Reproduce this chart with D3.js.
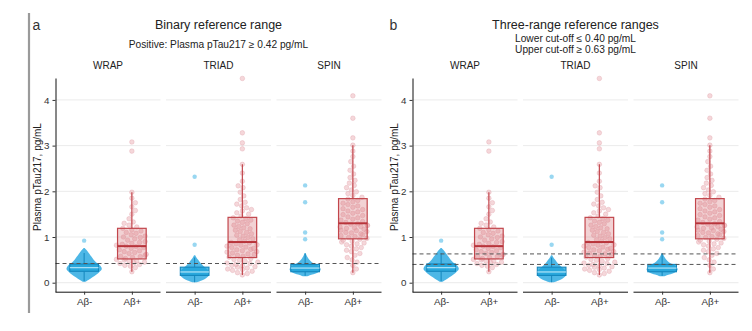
<!DOCTYPE html>
<html><head><meta charset="utf-8">
<script src="https://cdn.jsdelivr.net/npm/d3@7"></script>
<style>body{margin:0;background:#fff}</style>
</head><body>
<script>
// ---------------- data ----------------
const cohorts = ["WRAP", "TRIAD", "SPIN"];
const statusCats = ["Aβ-", "Aβ+"];
const yTicks = [0, 1, 2, 3, 4];
const binaryCutoff = [0.42];
const threeRangeCutoffs = [0.40, 0.63];

// box stats [lower whisker, Q1, median, Q3, upper whisker] per cohort
const negBoxStats = [[0.03, 0.25, 0.33, 0.41, 0.65], [0.01, 0.16, 0.235, 0.34, 0.55], [0.15, 0.24, 0.32, 0.40, 0.64]];
const posBoxStats = [[0.24, 0.52, 0.80, 1.19, 1.98], [0.17, 0.55, 0.89, 1.43, 2.59], [0.22, 0.96, 1.30, 1.84, 3.01]];

// Aβ- swarm density profiles (value, relative density)
const wrapNegVals = [0.02, 0.06, 0.12, 0.18, 0.24, 0.30, 0.36, 0.42, 0.48, 0.54, 0.60, 0.66, 0.72, 0.76];
const wrapNegDens = [0.06, 0.24, 0.47, 0.70, 0.88, 1.00, 0.94, 0.76, 0.59, 0.47, 0.35, 0.24, 0.12, 0.03];
const triadNegVals = [0.01, 0.05, 0.10, 0.15, 0.20, 0.25, 0.30, 0.35, 0.40, 0.45, 0.50, 0.55, 0.60];
const triadNegDens = [0.10, 0.40, 0.65, 0.80, 0.82, 0.80, 0.70, 0.55, 0.42, 0.30, 0.20, 0.10, 0.03];
const spinNegVals = [0.14, 0.18, 0.22, 0.26, 0.30, 0.34, 0.38, 0.42, 0.46, 0.50, 0.55, 0.60, 0.65];
const spinNegDens = [0.10, 0.40, 0.70, 0.85, 0.88, 0.82, 0.70, 0.50, 0.35, 0.24, 0.15, 0.08, 0.02];

// Aβ- isolated points
const wrapNegOut = [0.92];
const triadNegOut = [0.83, 2.32];
const spinNegOut = [0.95, 1.10, 1.76, 2.13];

// Aβ+ individual values
const wrapPos = [0.24, 0.33, 0.36, 0.38, 0.40, 0.42, 0.44, 0.45, 0.47, 0.48, 0.50, 0.51, 0.53, 0.55, 0.57, 0.58, 0.60, 0.62, 0.64, 0.66, 0.68, 0.70, 0.72, 0.75, 0.77, 0.79, 0.80, 0.82, 0.84, 0.86, 0.88, 0.90, 0.93, 0.96, 0.99, 1.00, 1.02, 1.05, 1.08, 1.10, 1.13, 1.16, 1.19, 1.22, 1.26, 1.30, 1.33, 1.40, 1.50, 1.58, 1.66, 1.75, 1.85, 1.98, 2.88, 3.08];
const triadPos = [0.17, 0.20, 0.22, 0.25, 0.27, 0.29, 0.30, 0.32, 0.34, 0.35, 0.37, 0.38, 0.40, 0.42, 0.43, 0.45, 0.47, 0.49, 0.51, 0.53,
  0.56, 0.58, 0.60, 0.62, 0.63, 0.65, 0.67, 0.68, 0.70, 0.72, 0.73, 0.75, 0.77, 0.78, 0.80, 0.82, 0.83, 0.85, 0.87, 0.88,
  0.91, 0.94, 0.96, 0.99, 1.02, 1.04, 1.07, 1.10, 1.12, 1.15, 1.18, 1.20, 1.23, 1.26, 1.29, 1.32, 1.35, 1.37, 1.40, 1.42,
  1.46, 1.50, 1.53, 1.57, 1.60, 1.64, 1.68, 1.72, 1.76, 1.82, 1.90, 1.98, 2.08, 2.12, 2.22, 2.40, 2.59, 2.93, 3.06, 3.28, 4.47];
const spinPos = [0.22, 0.30, 0.38, 0.45, 0.50, 0.55, 0.60, 0.64, 0.68, 0.71, 0.74, 0.77, 0.80, 0.83, 0.85, 0.87, 0.89, 0.91, 0.93, 0.95,
  0.97, 0.99, 1.01, 1.03, 1.05, 1.07, 1.09, 1.10, 1.12, 1.14, 1.15, 1.17, 1.19, 1.20, 1.22, 1.23, 1.25, 1.26, 1.28, 1.29,
  1.32, 1.34, 1.37, 1.39, 1.42, 1.44, 1.47, 1.49, 1.52, 1.55, 1.57, 1.60, 1.62, 1.65, 1.68, 1.71, 1.74, 1.77, 1.80, 1.83,
  1.87, 1.91, 1.95, 1.99, 2.03, 2.08, 2.13, 2.18, 2.24, 2.30, 2.38, 2.46, 2.55, 2.65, 2.76, 2.88, 3.01, 3.17, 3.60, 4.09];

const negProfiles = [[wrapNegVals, wrapNegDens], [triadNegVals, triadNegDens], [spinNegVals, spinNegDens]];
const negOutliers = [wrapNegOut, triadNegOut, spinNegOut];
const posPoints = [wrapPos, triadPos, spinPos];

// ---------------- drawing ----------------
const W = 752, H = 331;
const FONT = "'Liberation Sans', Arial, Helvetica, sans-serif";
const BLUE = "#1ea3da", BLUE_DARK = "#1486bd", RED = "#c2464c";
const panelW = 105, gap = 5.5;
const svg = d3.select("body").append("svg").attr("width", W).attr("height", H)
  .style("font-family", FONT);

const y = d3.scaleLinear().domain([-0.197, 4.48]).range([291.7, 78]);

// separator line for panel a
svg.append("line").attr("x1", 29).attr("x2", 29).attr("y1", 13).attr("y2", 313)
  .attr("stroke", "#9a9a9a").attr("stroke-width", 2.2);

function swarm(values, cx, r, limit) {
  const sorted = values.slice().sort((a, b) => a - b);
  const placed = [];
  const minD = r * 2.2;
  sorted.forEach((v, idx) => {
    const py = y(v);
    let best = null;
    const sign = idx % 2 ? 1 : -1;
    for (let k = 0; k < 200; k++) {
      const off = (k === 0) ? 0 : (k % 2 ? sign : -sign) * Math.ceil(k / 2) * 0.7;
      if (Math.abs(off) > limit) break;
      const ok = placed.every(p => Math.hypot(p.x - (cx + off), p.y - py) >= minD);
      if (ok) { best = off; break; }
    }
    if (best === null) best = sign * limit * ((idx * 7) % 10) / 10;
    placed.push({ x: cx + best, y: py, v });
  });
  return placed;
}

function drawSet(x0, title, subtitles, letter, cutoffs) {
  const g = svg.append("g");
  const lastRight = x0 + 3 * panelW + 2 * gap;
  const center = (x0 + lastRight) / 2;
  g.append("text").attr("x", center).attr("y", 29).attr("text-anchor", "middle")
    .attr("font-size", 12.5).attr("fill", "#222").text(title);
  subtitles.forEach((s, i) => {
    g.append("text").attr("x", center).attr("y", subtitles.length === 1 ? 47.5 : 41.5 + i * 11)
      .attr("text-anchor", "middle").attr("font-size", 10.2).attr("fill", "#222").text(s);
  });
  g.append("text").attr("x", x0 - 23).attr("y", 30).attr("font-size", 14).attr("fill", "#333").text(letter);

  // y title
  g.append("text").attr("transform", `translate(${x0 - 15},177) rotate(-90)`)
    .attr("text-anchor", "middle").attr("font-size", 10).attr("fill", "#222")
    .text("Plasma pTau217, pg/mL");

  cohorts.forEach((c, i) => {
    const px = x0 + i * (panelW + gap);
    const x = d3.scalePoint().domain(statusCats).range([px, px + panelW]).padding(0.6);
    const band = x.step();
    const pg = g.append("g");

    // strip label
    pg.append("text").attr("x", px + panelW / 2).attr("y", 68.5).attr("text-anchor", "middle")
      .attr("font-size", 10).attr("fill", "#222").text(c);

    // grid
    pg.selectAll(".grid").data(yTicks).join("line")
      .attr("x1", px).attr("x2", px + panelW).attr("y1", d => y(d)).attr("y2", d => y(d))
      .attr("stroke", "#ebebeb").attr("stroke-width", 1);

    // ---- Aβ- ----
    const cxN = x(statusCats[0]);
    const [vals, dens] = negProfiles[i];
    const prof = vals.map((v, k) => ({ v, d: dens[k] }));
    const maxHalf = 0.37 * band;
    const area = d3.area().y(d => y(d.v)).x0(d => cxN - d.d * maxHalf).x1(d => cxN + d.d * maxHalf)
      .curve(d3.curveCatmullRom);
    pg.append("path").datum(prof).attr("d", area).attr("fill", "#2eaae2").attr("fill-opacity", 0.85);
    pg.selectAll(".nout").data(negOutliers[i]).join("circle")
      .attr("cx", cxN).attr("cy", d => y(d)).attr("r", 2.2)
      .attr("fill", "#7fcdee").attr("fill-opacity", 0.8);
    const sN = negBoxStats[i];
    const bw = 0.6 * band;
    pg.append("line").attr("x1", cxN).attr("x2", cxN).attr("y1", y(sN[0])).attr("y2", y(sN[1]))
      .attr("stroke", BLUE_DARK).attr("stroke-width", 1);
    pg.append("line").attr("x1", cxN).attr("x2", cxN).attr("y1", y(sN[3])).attr("y2", y(sN[4]))
      .attr("stroke", BLUE_DARK).attr("stroke-width", 1);
    pg.append("rect").attr("x", cxN - bw / 2).attr("width", bw).attr("y", y(sN[3]))
      .attr("height", y(sN[1]) - y(sN[3])).attr("fill", BLUE).attr("fill-opacity", 0.75)
      .attr("stroke", BLUE_DARK).attr("stroke-width", 1.1);
    pg.append("line").attr("x1", cxN - bw / 2).attr("x2", cxN + bw / 2).attr("y1", y(sN[2])).attr("y2", y(sN[2]))
      .attr("stroke", "#a9e0f6").attr("stroke-width", 1.3);

    // ---- Aβ+ ----
    const cxP = x(statusCats[1]);
    const pts = swarm(posPoints[i], cxP, 2.3, 16);
    pg.selectAll(".pp").data(pts).join("circle")
      .attr("cx", d => d.x).attr("cy", d => d.y).attr("r", 2.3)
      .attr("fill", "#ecb6bc").attr("fill-opacity", 0.55)
      .attr("stroke", "#dc9aa2").attr("stroke-opacity", 0.55).attr("stroke-width", 0.6);
    const sP = posBoxStats[i];
    pg.append("line").attr("x1", cxP).attr("x2", cxP).attr("y1", y(sP[0])).attr("y2", y(sP[1]))
      .attr("stroke", RED).attr("stroke-width", 1.2);
    pg.append("line").attr("x1", cxP).attr("x2", cxP).attr("y1", y(sP[3])).attr("y2", y(sP[4]))
      .attr("stroke", RED).attr("stroke-width", 1.2);
    pg.append("rect").attr("x", cxP - bw / 2).attr("width", bw).attr("y", y(sP[3]))
      .attr("height", y(sP[1]) - y(sP[3])).attr("fill", "#d46a72").attr("fill-opacity", 0.3)
      .attr("stroke", RED).attr("stroke-width", 1.2);
    pg.append("line").attr("x1", cxP - bw / 2).attr("x2", cxP + bw / 2).attr("y1", y(sP[2])).attr("y2", y(sP[2]))
      .attr("stroke", "#b8343b").attr("stroke-width", 2);

    // cutoff lines
    pg.selectAll(".cut").data(cutoffs).join("line")
      .attr("x1", px).attr("x2", px + panelW).attr("y1", d => y(d)).attr("y2", d => y(d))
      .attr("stroke", "#555").attr("stroke-width", 1).attr("stroke-dasharray", "4,3");

    // bottom axis
    const ax = pg.append("g").attr("transform", "translate(0,291.7)")
      .call(d3.axisBottom(x).tickSize(3).tickSizeOuter(0));
    ax.select(".domain").attr("stroke", "#111").attr("stroke-width", 1).attr("d", `M${px},0.5H${px + panelW}`);
    ax.selectAll(".tick line").attr("stroke", "#333");
    ax.selectAll(".tick text").attr("font-size", 9.8).attr("fill", "#333").attr("font-family", FONT).attr("dy", "0.75em");
  });

  // left axis
  const ay = g.append("g").attr("transform", `translate(${x0},0)`)
    .call(d3.axisLeft(y).tickValues(yTicks).tickFormat(d3.format("d")).tickSize(3).tickSizeOuter(0));
  ay.select(".domain").attr("stroke", "#111").attr("stroke-width", 1);
  ay.selectAll(".tick line").attr("stroke", "#333");
  ay.selectAll(".tick text").attr("font-size", 9.8).attr("fill", "#333").attr("font-family", FONT);
}

drawSet(55.5, "Binary reference range", ["Positive: Plasma pTau217 \u2265 0.42 pg/mL"], "a", binaryCutoff);
drawSet(412.5, "Three-range reference ranges", ["Lower cut-off \u2264 0.40 pg/mL", "Upper cut-off \u2265 0.63 pg/mL"], "b", threeRangeCutoffs);
</script>
</body></html>
